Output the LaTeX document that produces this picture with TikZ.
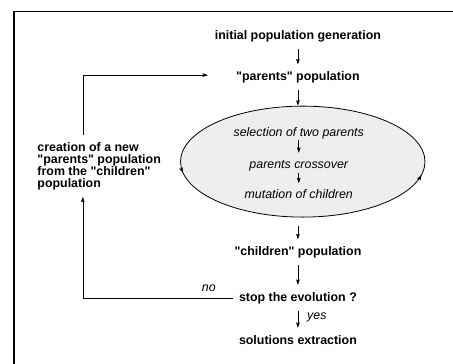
\documentclass[tikz,border=0pt]{standalone}
\usepackage{fontspec}
\setmainfont{Liberation Sans}
\usetikzlibrary{arrows.meta,shapes.geometric,decorations.markings,positioning}
\definecolor{ink}{HTML}{000000}
\definecolor{loopfill}{HTML}{EEEEEE}
\newcommand{\figsize}{\fontsize{12.4}{11.8}\selectfont}
\newcommand{\qtd}[1]{\textquotedbl#1\textquotedbl}
\tikzset{
  % ---- text boxes ------------------------------------------------
  proc/.style    = {font=\figsize\bfseries, text=ink, text height=9pt,
                    text depth=2.6pt, inner xsep=6pt, inner ysep=7pt},
  op/.style      = {font=\figsize\itshape, text=ink, text height=9pt,
                    text depth=2.6pt, inner xsep=4pt, inner ysep=1.5pt},
  note/.style    = {font=\figsize\bfseries, text=ink, align=left,
                    inner xsep=0pt, inner ysep=7pt},
  lbl/.style     = {font=\figsize\itshape, text=ink, text height=9pt,
                    text depth=2.6pt, inner sep=4pt},
  % ---- the generation loop ---------------------------------------
  loopell/.style = {ellipse, draw=ink, line width=.8pt, fill=loopfill,
                    minimum width=8.59cm, minimum height=3.9cm,
                    inner sep=0pt},
  looptip/.style = {decoration={markings,
                    mark=at position .52 with {\arrow{Stealth[length=5.5pt,width=3.6pt,inset=1pt]}},
                    mark=at position .976 with {\arrow{Stealth[length=5.5pt,width=3.6pt,inset=1pt]}}},
                    postaction={decorate}},
  % ---- connectors ------------------------------------------------
  flow/.style    = {draw=ink, line width=.6pt,
                    -{Stealth[length=5.5pt,width=3.6pt,inset=1pt]}},
  frame/.style   = {draw=ink, line width=1.5pt},
}
\begin{document}
\begin{tikzpicture}
\clip (0,0) rectangle (15.92,12.76);
\draw[frame] (0.49,-1) rectangle (17,12.35);
\node[proc] (init) at (10.47,11.50) {initial population generation};
\node[proc] (parents) at (10.47,10.04) {\qtd{parents} population};
\node[loopell] (evo) at (10.64,7.08) {};
\path[looptip] (evo.center) ellipse [x radius=4.295cm, y radius=1.95cm];
\node[op] (select) at (10.50,8.09) {selection of two parents};
\node[op] (cross) at (10.50,6.95) {parents crossover};
\node[op] (mutate) at (10.50,5.88) {mutation of children};
\node[proc] (children) at (10.47,3.89) {\qtd{children} population};
\node[proc] (stop) at (10.47,2.29) {stop the evolution ?};
\node[proc] (extract) at (10.47,0.78) {solutions extraction};
\node[note, anchor=west] (renew) at (1.31,6.92)
  {creation of a new\\\qtd{parents} population\\from the \qtd{children}\\population};
\coordinate (lx) at (2.91,0);
\coordinate (backin) at (7.31,10.12);
% main chain
\draw[flow] (init) -- (parents);
\draw[flow] (parents.south) -- (parents.south |- evo.north);
\draw[flow, shorten >=5pt] (select) -- (cross);
\draw[flow, shorten >=5pt] (cross) -- (mutate);
\draw[flow, shorten <=8pt] (children.north |- evo.south) -- (children);
\draw[flow] (children) -- (stop);
\draw[flow] (stop) -- node[lbl, right=5pt, pos=.3] (yes) {yes} (extract);
% back loop
\draw[flow] (stop.west) -- node[lbl, above, pos=.16] (no) {no} (stop -| lx)
  -- (renew.south -| lx);
\draw[flow] (renew.north -| lx) |- (backin);
\end{tikzpicture}
\end{document}
